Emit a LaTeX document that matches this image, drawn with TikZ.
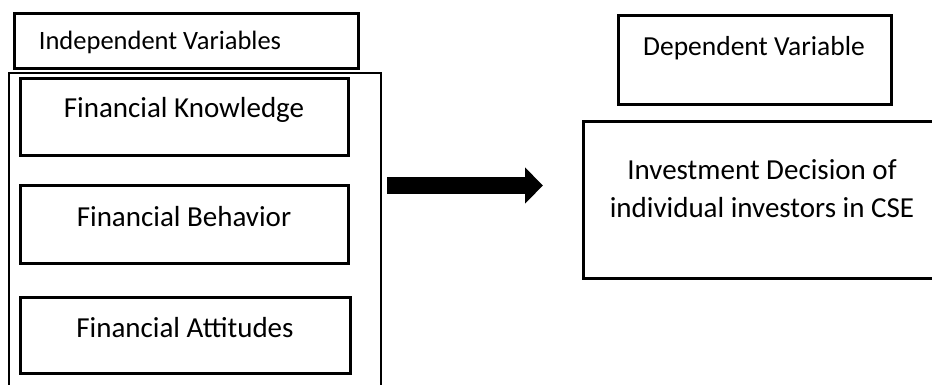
\documentclass[tikz,border=0pt]{standalone}
\usepackage{fontspec}
\setmainfont{Carlito}
\usetikzlibrary{arrows.meta}
\begin{document}
\begin{tikzpicture}[x=1pt,y=-1pt,
  thickbox/.style={draw=black, line width=3pt, inner sep=0pt},
  thinbox/.style={draw=black, line width=2pt, inner sep=0pt},
  bigtxt/.style={font=\fontsize{29}{38}\selectfont, align=center, inner sep=0pt},
  smalltxt/.style={font=\fontsize{26.5}{32}\selectfont, inner sep=0pt},
  bigarrow/.style={line width=17pt, -{Triangle[length=18pt,width=35pt]}}
]
\useasboundingbox (0,0) rectangle (932,384);
\clip (0,0) rectangle (932,384);
\fill[white] (0,0) rectangle (932,384);
% left group
\draw[thinbox] (9,73) rectangle (381,400);
\node[thickbox, minimum width=344pt, minimum height=55pt] (indep) at (186,40.5) {};
\node[smalltxt] (indeptxt) at (160,42) {Independent Variables};
\node[thickbox, minimum width=328pt, minimum height=77pt] (fk) at (184,116.5) {};
\node[bigtxt] (fktxt) at (184,110) {Financial Knowledge};
\node[thickbox, minimum width=328pt, minimum height=78pt] (fb) at (184,224) {};
\node[bigtxt] (fbtxt) at (184,217) {Financial Behavior};
\node[thickbox, minimum width=330pt, minimum height=76pt] (fa) at (185,335) {};
\node[bigtxt] (fatxt) at (185,328) {Financial Attitudes};
% right group
\node[thickbox, minimum width=273pt, minimum height=89pt] (dep) at (754.5,59.5) {};
\node[font=\fontsize{27.5}{33}\selectfont, inner sep=0pt] (deptxt) at (754,48) {Dependent Variable};
\node[thickbox, minimum width=358pt, minimum height=157pt] (inv) at (762,199.5) {};
\node[bigtxt] (invtxt) at (762,189) {Investment Decision of\\individual investors in CSE};
% arrow
\coordinate (as) at (387,185.5);
\coordinate (ae) at (543,185.5);
\draw[bigarrow] (as) -- (ae);
\end{tikzpicture}
\end{document}
